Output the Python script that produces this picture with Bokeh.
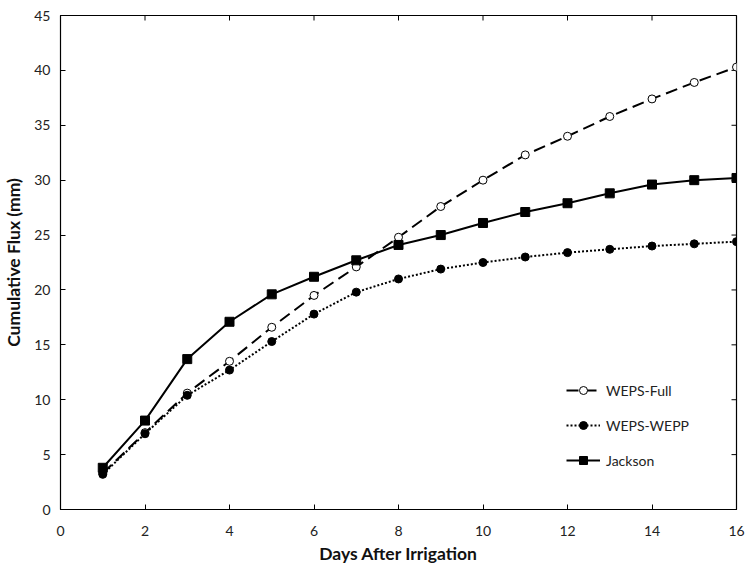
from bokeh.plotting import figure
from bokeh.models import Range1d, Legend, LegendItem, FixedTicker
from bokeh.embed import file_html
from bokeh.resources import INLINE

days = list(range(1, 17))
weps_full = [3.3, 7.0, 10.6, 13.5, 16.6, 19.5, 22.1, 24.8, 27.6, 30.0, 32.3, 34.0, 35.8, 37.4, 38.9, 40.3]
weps_wepp = [3.2, 6.9, 10.4, 12.7, 15.3, 17.8, 19.8, 21.0, 21.9, 22.5, 23.0, 23.4, 23.7, 24.0, 24.2, 24.4]
jackson = [3.8, 8.1, 13.7, 17.1, 19.6, 21.2, 22.7, 24.1, 25.0, 26.1, 27.1, 27.9, 28.8, 29.6, 30.0, 30.2]
x_ticks = [0, 2, 4, 6, 8, 10, 12, 14, 16]
y_ticks = [0, 5, 10, 15, 20, 25, 30, 35, 40, 45]
x_max = 16
y_max = 45

FONT = "Lato"

p = figure(width=746, height=566, output_backend="svg", toolbar_location=None,
           x_range=Range1d(0, x_max), y_range=Range1d(0, y_max),
           min_border_left=60, min_border_right=10, min_border_top=15, min_border_bottom=56)
p.grid.visible = False
p.outline_line_color = "black"
p.outline_line_width = 1.2
p.background_fill_color = "white"
p.border_fill_color = "white"

for ax in (p.xaxis[0], p.yaxis[0]):
    ax.major_tick_in = 5
    ax.major_tick_out = 0
    ax.minor_tick_in = 0
    ax.minor_tick_out = 0
    ax.axis_line_color = "black"
    ax.major_label_text_font = FONT
    ax.major_label_text_font_size = "14px"
    ax.major_label_text_color = "#222222"
    ax.axis_label_text_font = FONT
    ax.axis_label_text_font_size = "17.5px"
    ax.axis_label_text_font_style = "bold"
    ax.axis_label_text_color = "#111111"

p.xaxis[0].ticker = FixedTicker(ticks=x_ticks)
p.yaxis[0].ticker = FixedTicker(ticks=y_ticks)
p.xaxis[0].axis_label = "Days After Irrigation"
p.yaxis[0].axis_label = "Cumulative Flux (mm)"
p.xaxis[0].major_label_standoff = 16
p.yaxis[0].major_label_standoff = 10
p.xaxis[0].axis_label_standoff = 4
p.yaxis[0].axis_label_standoff = 7

# inward ticks on the top and right frame edges
p.ray(x=x_ticks, y=[y_max] * len(x_ticks), length=5, length_units="screen",
      angle=-90, angle_units="deg", line_color="black", line_width=1)
p.ray(x=[x_max] * len(y_ticks), y=y_ticks, length=5, length_units="screen",
      angle=180, angle_units="deg", line_color="black", line_width=1)

l1 = p.line(days, weps_full, line_color="black", line_width=2, line_dash="12 6")
m1 = p.scatter(days, weps_full, marker="circle", size=8, fill_color="white", line_color="black", line_width=1)
l2 = p.line(days, weps_wepp, line_color="black", line_width=2, line_dash="2 2")
m2 = p.scatter(days, weps_wepp, marker="circle", size=8, fill_color="black", line_color="black")
l3 = p.line(days, jackson, line_color="black", line_width=2)
m3 = p.scatter(days, jackson, marker="square", size=9, fill_color="black", line_color="black")

legend = Legend(items=[
    LegendItem(label="WEPS-Full", renderers=[l1, m1]),
    LegendItem(label="WEPS-WEPP", renderers=[l2, m2]),
    LegendItem(label="Jackson", renderers=[l3, m3]),
], location=(506, 39))
legend.border_line_color = None
legend.background_fill_alpha = 0
legend.glyph_width = 34
legend.glyph_height = 20
legend.label_height = 20
legend.spacing = 15
legend.padding = 0
legend.margin = 0
legend.label_standoff = 6
legend.label_text_font = FONT
legend.label_text_font_size = "14px"
legend.label_text_color = "#222222"
p.add_layout(legend, "center")

open("out.html", "w").write(file_html(p, INLINE))
